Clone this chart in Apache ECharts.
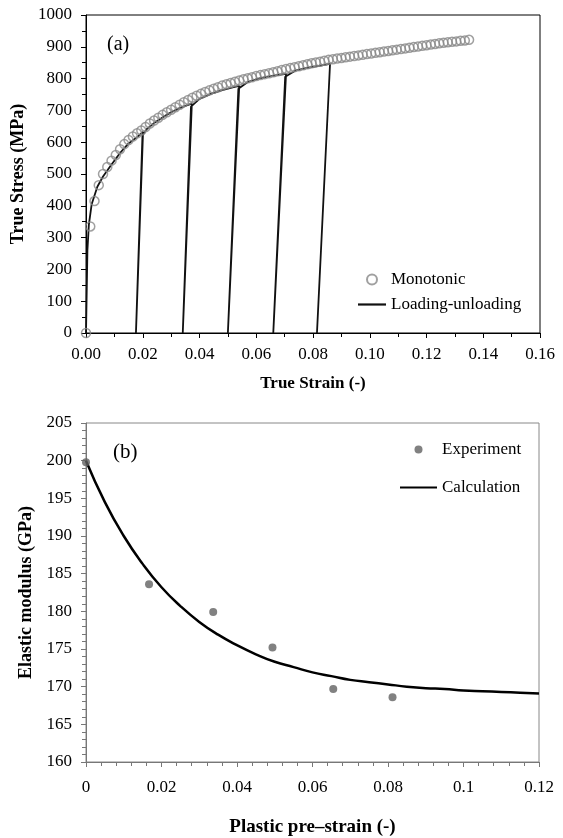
<!DOCTYPE html>
<html>
<head>
<meta charset="utf-8">
<script src="https://cdn.jsdelivr.net/npm/echarts@6/dist/echarts.min.js"></script>
<style>
  html, body { margin: 0; padding: 0; background: #fff; }
  #chart { width: 563px; height: 838px; }
</style>
</head>
<body>
<div id="chart"></div>
<script>
// (a) monotonic tensile curve: [true strain, true stress MPa]
const monotonic = [
  [0, 0], [0.0015, 335], [0.003, 415], [0.0045, 465], [0.006, 500], [0.0075, 522],
  [0.009, 542], [0.0105, 560], [0.012, 578], [0.0135, 594], [0.015, 607], [0.0165, 618],
  [0.018, 628], [0.0195, 637], [0.021, 648], [0.0225, 659], [0.024, 668], [0.0255, 677],
  [0.027, 686], [0.0285, 694], [0.03, 702], [0.0315, 710], [0.033, 718], [0.0345, 726],
  [0.036, 733], [0.0375, 740], [0.039, 746], [0.0405, 752], [0.042, 758], [0.0435, 763],
  [0.045, 768], [0.0465, 773], [0.048, 778], [0.0495, 782], [0.051, 786], [0.0525, 790],
  [0.054, 794], [0.0555, 798], [0.057, 801], [0.0585, 804], [0.06, 808], [0.0615, 811],
  [0.063, 814], [0.0645, 817], [0.066, 820], [0.0675, 823], [0.069, 827], [0.0705, 830],
  [0.072, 833], [0.0735, 836], [0.075, 839], [0.0765, 842], [0.078, 845], [0.0795, 848],
  [0.081, 851], [0.0825, 853], [0.084, 856], [0.0855, 859], [0.087, 861], [0.0885, 863],
  [0.09, 865], [0.0915, 867], [0.093, 869], [0.0945, 871], [0.096, 873], [0.0975, 875],
  [0.099, 877], [0.1005, 879], [0.102, 881], [0.1035, 883], [0.105, 885], [0.1065, 887],
  [0.108, 889], [0.1095, 891], [0.111, 893], [0.1125, 895], [0.114, 897], [0.1155, 899],
  [0.117, 901], [0.1185, 903], [0.12, 905], [0.1215, 907], [0.123, 909], [0.1245, 911],
  [0.126, 913], [0.1275, 914], [0.129, 916], [0.1305, 917], [0.132, 919], [0.1335, 920],
  [0.135, 922]
];

// (a) loading-unloading path: [true strain, true stress MPa]
const loadingUnloading = [
  [0, 0], [0.0005, 260], [0.001, 340], [0.002, 405], [0.004, 460], [0.006, 492],
  [0.009, 530], [0.012, 566], [0.015, 596], [0.018, 616], [0.0201, 632],
  [0.0176, 0], [0.0179, 0], [0.0199, 622],
  [0.0215, 642], [0.024, 660], [0.027, 678], [0.03, 694], [0.033, 707], [0.0355, 716], [0.0373, 721],
  [0.0341, 0], [0.0345, 0], [0.037, 712],
  [0.04, 736], [0.044, 752], [0.048, 764], [0.052, 773], [0.054, 777],
  [0.05, 0], [0.0504, 0], [0.0537, 768],
  [0.057, 789], [0.06, 798], [0.064, 806], [0.068, 812], [0.0705, 815],
  [0.066, 0], [0.0664, 0], [0.0702, 806],
  [0.074, 826], [0.078, 834], [0.082, 840], [0.086, 846],
  [0.0814, 0]
];

// (b) measured elastic modulus vs plastic pre-strain
const preStrain = [0, 0.0167, 0.0337, 0.0494, 0.0655, 0.0812];
const modulus = [199.8, 183.6, 179.9, 175.2, 169.7, 168.6];

// (b) calculated curve
const calcStrain = [0, 0.005, 0.01, 0.015, 0.02, 0.025, 0.03, 0.035, 0.04, 0.045, 0.05,
  0.055, 0.06, 0.065, 0.07, 0.075, 0.08, 0.085, 0.09, 0.095, 0.1, 0.105, 0.11, 0.115, 0.12];
const calcModulus = [200.0, 194.5, 190.0, 186.3, 183.2, 180.7, 178.6, 176.9, 175.5, 174.3, 173.3,
  172.6, 171.9, 171.4, 170.9, 170.6, 170.3, 170.0, 169.8, 169.7, 169.5, 169.4, 169.3, 169.2, 169.1];

const font = 'Liberation Serif, Times New Roman, serif';
const lineIcon = (w) => 'path://M0,0 L' + w + ',0 L' + w + ',2.2 L0,2.2 Z';

const chartBlock = document.getElementById('chart');
const chart = echarts.init(chartBlock, null, { renderer: 'canvas' });

const axisBase = (color) => ({
  type: 'value',
  axisLine: { show: true, onZero: false, lineStyle: { color: color, width: 1 } },
  axisTick: { show: true, length: 5, lineStyle: { color: color } },
  minorTick: { show: true, length: 4, lineStyle: { color: color } },
  splitLine: { show: false },
  axisLabel: { color: '#000', fontSize: 17, fontFamily: font },
  nameLocation: 'middle',
  nameTextStyle: { color: '#000', fontFamily: font, fontWeight: 'bold' },
});

const option = {
  animation: false,
  backgroundColor: '#fff',
  grid: [
    { left: 86, right: 23, top: 15, height: 318, show: true, borderColor: '#000', borderWidth: 1, containLabel: false },
    { left: 86, right: 24, top: 423, height: 339, show: true, borderColor: '#888', borderWidth: 1, containLabel: false },
  ],
  xAxis: [
    Object.assign(axisBase('#000'), {
      gridIndex: 0, min: 0, max: 0.16, interval: 0.02,
      minorTick: { show: true, splitNumber: 2, length: 4, lineStyle: { color: '#000' } },
      axisLabel: { color: '#000', fontSize: 17, fontFamily: font, margin: 13, formatter: (v) => v.toFixed(2) },
      name: 'True Strain (-)', nameGap: 42,
      nameTextStyle: { color: '#000', fontFamily: font, fontWeight: 'bold', fontSize: 17 },
    }),
    Object.assign(axisBase('#777'), {
      gridIndex: 1, min: 0, max: 0.12, interval: 0.02,
      minorTick: { show: true, splitNumber: 5, length: 4, lineStyle: { color: '#777' } },
      axisLabel: { color: '#000', fontSize: 17, fontFamily: font, margin: 17 },
      name: 'Plastic pre\u2013strain (-)', nameGap: 56,
      nameTextStyle: { color: '#000', fontFamily: font, fontWeight: 'bold', fontSize: 19 },
    }),
  ],
  yAxis: [
    Object.assign(axisBase('#000'), {
      gridIndex: 0, min: 0, max: 1000, interval: 100,
      minorTick: { show: true, splitNumber: 2, length: 4, lineStyle: { color: '#000' } },
      axisLabel: { color: '#000', fontSize: 17, fontFamily: font, margin: 14, formatter: (v) => String(v) },
      name: 'True Stress (MPa)', nameGap: 48,
      nameTextStyle: { color: '#000', fontFamily: font, fontWeight: 'bold', fontSize: 18 },
    }),
    Object.assign(axisBase('#777'), {
      gridIndex: 1, min: 160, max: 205, interval: 5,
      minorTick: { show: true, splitNumber: 5, length: 4, lineStyle: { color: '#777' } },
      axisLabel: { color: '#000', fontSize: 17, fontFamily: font, margin: 14 },
      name: 'Elastic modulus (GPa)', nameGap: 51,
      nameTextStyle: { color: '#000', fontFamily: font, fontWeight: 'bold', fontSize: 18 },
    }),
  ],
  legend: [
    {
      orient: 'vertical', left: 358, top: 271, padding: 0, itemWidth: 28, itemHeight: 10, itemGap: 8,
      data: [
        { name: 'Monotonic' },
        { name: 'Loading-unloading', icon: lineIcon(28) },
      ],
      textStyle: { color: '#000', fontSize: 17, fontFamily: font, lineHeight: 16 },
    },
    {
      orient: 'vertical', left: 400, top: 441, padding: 0, itemWidth: 37, itemHeight: 8, itemGap: 21,
      data: [
        { name: 'Experiment' },
        { name: 'Calculation', icon: lineIcon(37) },
      ],
      textStyle: { color: '#000', fontSize: 17, fontFamily: font, lineHeight: 16 },
    },
  ],
  graphic: [
    { type: 'text', left: 107, top: 35, style: { text: '(a)', fontSize: 20, fontFamily: font, fill: '#000' } },
    { type: 'text', left: 113, top: 442, style: { text: '(b)', fontSize: 21, fontFamily: font, fill: '#000' } },
  ],
  series: [
    {
      name: 'Loading-unloading', type: 'line', xAxisIndex: 0, yAxisIndex: 0,
      data: loadingUnloading, symbol: 'none', smooth: false, z: 2,
      lineStyle: { color: '#111', width: 1.8 },
      itemStyle: { color: '#111' },
    },
    {
      name: 'Monotonic', type: 'scatter', xAxisIndex: 0, yAxisIndex: 0,
      data: monotonic, symbol: 'circle', symbolSize: 9, z: 3,
      itemStyle: { color: 'rgba(0,0,0,0)', borderColor: '#888', borderWidth: 1.5 },
    },
    {
      name: 'Experiment', type: 'scatter', xAxisIndex: 1, yAxisIndex: 1,
      data: preStrain.map((x, i) => [x, modulus[i]]), symbol: 'circle', symbolSize: 8, z: 3,
      itemStyle: { color: '#626262' },
    },
    {
      name: 'Calculation', type: 'line', xAxisIndex: 1, yAxisIndex: 1,
      data: calcStrain.map((x, i) => [x, calcModulus[i]]), symbol: 'none', smooth: true, z: 2,
      lineStyle: { color: '#000', width: 2.5 },
      itemStyle: { color: '#000' },
    },
  ],
};

chart.setOption(option);
</script>
</body>
</html>
